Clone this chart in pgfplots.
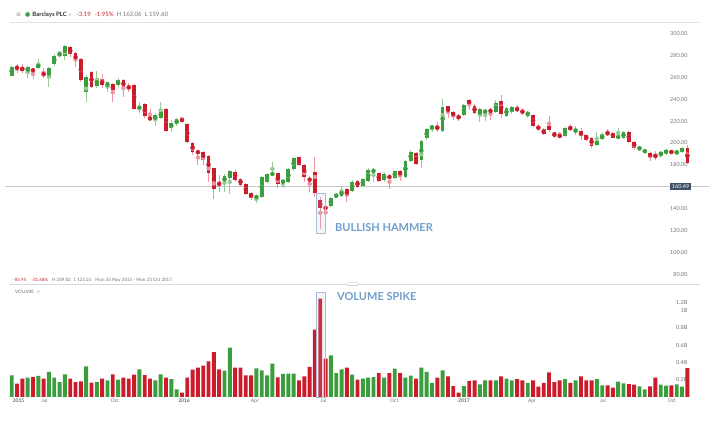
\documentclass[border=0pt]{standalone}
\usepackage{fontspec}
\setmainfont{Lato}
\newfontfamily\sym{DejaVu Sans}
\usepackage{pgfplots}
\usepackage{pgfplotstable}
\pgfplotsset{compat=1.18}

\definecolor{upC}{RGB}{58,158,62}
\definecolor{dnC}{RGB}{204,28,44}
\definecolor{upW}{RGB}{150,205,150}
\definecolor{dnW}{RGB}{236,150,162}
\definecolor{tickgray}{RGB}{115,115,115}
\definecolor{annot}{RGB}{112,158,204}
\definecolor{boxc}{RGB}{168,190,216}
\definecolor{slate}{RGB}{62,80,104}

% weekly candles, up weeks: index open high low close volume(B)
\pgfplotstableread{
i o h l c v
0 261.5 270.6 260.9 269.7 0.250
3 265.1 270.3 259.0 269.4 0.224
5 268.8 276.4 267.2 271.8 0.243
7 259.0 269.7 251.4 268.2 0.289
8 271.8 281.0 270.6 279.7 0.224
9 280.3 284.3 279.7 281.5 0.173
10 279.7 289.8 275.8 288.6 0.262
14 246.2 262.0 237.7 260.5 0.355
16 252.0 265.7 249.9 259.0 0.173
18 251.4 256.0 246.9 255.4 0.193
20 252.9 259.0 251.4 257.5 0.200
24 231.6 237.7 227.1 232.8 0.320
27 221.0 227.1 215.8 225.5 0.193
28 223.1 237.7 221.9 229.2 0.262
30 214.0 220.9 210.3 217.9 0.208
31 217.0 223.1 215.8 221.9 0.089
40 163.8 171.7 155.5 169.9 0.304
41 168.3 175.3 153.4 174.4 0.570
46 149.8 152.5 144.9 151.6 0.331
47 150.4 169.9 149.5 168.6 0.308
48 164.7 172.9 163.2 171.7 0.250
49 171.1 182.4 170.2 172.3 0.385
51 163.2 166.8 158.6 166.2 0.266
52 164.7 176.9 163.2 176.0 0.270
53 176.0 187.5 174.7 186.6 0.270
60 142.5 151.0 141.2 150.1 0.482
61 151.3 153.4 150.4 152.5 0.277
62 151.9 160.7 151.0 156.2 0.320
64 156.2 166.0 155.5 164.7 0.258
66 161.0 167.7 160.1 166.8 0.212
67 165.3 176.9 164.7 175.3 0.223
68 174.1 176.9 164.7 174.7 0.231
70 166.2 173.2 164.7 171.4 0.223
72 168.3 175.3 167.1 174.4 0.327
74 169.3 184.5 168.3 183.6 0.223
75 183.6 193.3 182.4 192.1 0.246
77 184.5 202.7 176.9 201.8 0.339
78 204.3 214.0 202.7 212.8 0.289
79 213.1 216.4 210.3 215.5 0.162
81 211.3 240.2 210.3 233.2 0.308
85 225.6 235.6 224.7 234.7 0.127
88 225.0 231.7 219.5 230.8 0.146
89 228.0 231.0 220.1 229.5 0.193
91 228.6 239.3 227.1 236.2 0.193
93 225.0 233.2 224.1 231.7 0.212
94 228.6 234.1 226.2 232.6 0.193
97 226.2 229.2 222.5 227.4 0.162
104 206.7 214.3 205.2 213.4 0.208
106 210.7 215.8 207.3 211.9 0.193
110 198.2 210.3 197.6 201.8 0.208
111 203.6 210.3 202.7 207.9 0.135
114 204.9 214.0 204.3 206.1 0.177
115 204.3 211.3 203.3 210.3 0.158
118 194.5 196.7 193.6 195.7 0.123
119 192.1 194.2 190.6 193.0 0.089
122 188.4 193.0 186.0 192.1 0.142
123 190.6 194.5 189.0 193.6 0.131
125 190.9 193.6 189.0 192.1 0.146
126 191.5 196.7 190.6 195.7 0.119
}\up

% down weeks
\pgfplotstableread{
i o h l c v
1 269.4 271.8 263.6 268.2 0.154
2 269.7 272.1 263.6 265.7 0.212
4 267.2 268.2 258.1 265.7 0.231
6 263.3 268.8 259.6 262.4 0.212
11 287.3 288.9 278.8 281.2 0.212
12 281.9 282.8 269.7 274.9 0.173
13 276.4 277.3 256.0 257.5 0.181
15 265.1 265.7 249.9 250.8 0.166
17 258.1 262.7 249.9 252.9 0.212
19 253.9 255.1 237.7 248.4 0.262
21 257.5 258.4 241.7 250.8 0.224
22 251.4 254.5 246.2 250.5 0.212
23 252.9 253.5 230.4 231.0 0.258
25 235.3 236.2 223.1 224.6 0.254
26 223.1 231.0 221.0 221.6 0.212
29 231.0 231.6 209.7 210.9 0.224
32 221.6 224.1 219.5 220.1 0.050
33 217.1 218.0 199.7 200.6 0.224
34 200.3 201.2 189.0 191.5 0.316
35 192.1 193.6 179.9 191.2 0.339
36 192.1 192.7 179.9 184.5 0.362
37 188.1 189.0 164.7 172.3 0.412
38 176.9 177.5 148.6 157.7 0.520
39 163.2 170.8 155.5 162.0 0.320
42 173.8 175.3 164.7 166.2 0.339
43 167.4 168.3 160.7 161.6 0.339
44 162.3 163.2 152.5 153.1 0.250
45 154.0 155.6 148.0 150.1 0.250
50 172.3 172.9 158.6 162.6 0.227
54 186.9 187.5 179.0 179.9 0.193
55 179.9 180.5 164.7 169.3 0.239
56 167.7 169.9 155.5 165.3 0.347
57 173.2 186.9 151.0 154.0 0.778
58 148.0 151.0 121.3 140.3 1.137
59 141.2 141.9 131.2 140.3 0.443
63 157.7 158.6 146.4 151.6 0.339
65 165.3 166.2 159.2 160.1 0.200
69 172.3 172.9 164.7 165.3 0.277
71 170.2 171.4 157.7 167.7 0.277
73 174.4 175.3 165.3 170.2 0.277
76 190.6 192.1 179.9 180.8 0.212
80 214.9 219.5 210.3 212.8 0.223
82 233.5 234.1 222.5 227.4 0.239
83 228.0 229.2 221.0 224.7 0.127
84 225.6 226.2 220.4 221.6 0.050
86 239.3 239.9 230.1 235.3 0.185
87 234.1 235.3 226.2 227.1 0.193
90 229.8 232.3 221.0 228.9 0.193
92 238.4 243.8 222.5 226.2 0.239
95 231.7 234.7 228.6 229.8 0.208
96 230.1 231.7 225.6 227.1 0.193
98 225.6 226.2 214.6 215.5 0.193
99 215.5 217.0 211.0 212.5 0.119
100 212.5 214.0 207.3 207.9 0.162
101 215.8 225.0 210.3 211.9 0.285
102 209.7 210.3 204.9 205.8 0.173
103 207.3 210.3 204.9 205.5 0.193
105 214.9 217.0 211.0 212.2 0.162
107 211.0 214.0 202.7 206.7 0.239
108 207.3 207.9 201.8 202.7 0.193
109 204.9 205.8 195.1 197.6 0.193
112 210.3 212.8 206.4 207.3 0.135
113 209.4 210.3 204.3 204.9 0.108
116 210.3 211.0 199.7 200.6 0.150
117 201.2 201.8 193.6 195.7 0.142
120 190.6 192.1 183.6 187.5 0.123
121 189.7 192.7 184.5 186.6 0.223
124 193.0 193.6 189.7 190.6 0.135
127 195.1 198.2 180.5 181.4 0.335
}\dn

\pgfplotsset{
  panel/.style={
    scale only axis, width=709pt,
    xmin=-2.2, xmax=131.07,
    axis line style={draw=none},
    major tick length=0pt,
    yticklabel pos=right,
    yticklabel style={anchor=east, xshift=-18pt,
      font=\fontsize{5.5}{6}\selectfont, text=tickgray},
    /pgf/number format/assume math mode=true,
  },
  wick/.style={only marks, mark=none, #1,
    error bars/.cd, y dir=both, y explicit, error mark=none,
    error bar style={line width=0.9pt, #1}},
  body/.style={only marks, mark=none, #1,
    error bars/.cd, y dir=both, y explicit, error mark=none,
    error bar style={line width=3.7pt, #1}},
}

\begin{document}
\begin{tikzpicture}
\useasboundingbox (0,0) rectangle (709pt,422pt);

% price panel
\begin{axis}[panel,
  at={(0pt,139pt)}, anchor=south west, height=258pt,
  ymin=72.1, ymax=307.8,
  xtick=\empty,
  ytick={80,100,120,140,180,200,220,240,260,280,300},
  yticklabel={\pgfmathprintnumber[fixed,fixed zerofill,precision=2]{\tick}},
]
\addplot[gray!45, line width=0.6pt] coordinates {(-1.2,160.49) (131,160.49)};
\addplot[wick=upW] table[x=i, y expr={(\thisrow{h}+\thisrow{l})/2},
  y error expr={(\thisrow{h}-\thisrow{l})/2}] {\up};
\addplot[wick=dnW] table[x=i, y expr={(\thisrow{h}+\thisrow{l})/2},
  y error expr={(\thisrow{h}-\thisrow{l})/2}] {\dn};
\addplot[body=upC] table[x=i, y expr={(\thisrow{o}+\thisrow{c})/2},
  y error expr={max(abs(\thisrow{c}-\thisrow{o})/2,0.45)}] {\up};
\addplot[body=dnC] table[x=i, y expr={(\thisrow{o}+\thisrow{c})/2},
  y error expr={max(abs(\thisrow{c}-\thisrow{o})/2,0.45)}] {\dn};
\node[fill=slate, text=white, font=\fontsize{5.5}{6}\selectfont,
  inner sep=1.6pt, anchor=east] at (axis cs:131.07,160.49) [xshift=-18pt] {160.49};
\end{axis}

% volume panel
\begin{axis}[panel,
  at={(0pt,25pt)}, anchor=south west, height=111pt,
  ymin=0, ymax=1.283,
  ytick={0.2,0.4,0.6,0.8,1.0},
  yticklabels={0.2B,0.4B,0.6B,0.8B,1B},
  extra y ticks={1.095}, extra y tick labels={1.2B},
  xtick={1.28,6.17,19.4,32.4,45.7,58.6,71.9,85.0,97.8,111.1,124.1},
  xticklabels={{\color{black!80}2015},Jul,Oct,{\color{black!80}2016},Apr,Jul,Oct,
    {\color{black!80}2017},Apr,Jul,Oct},
  xticklabel style={font=\fontsize{5}{6}\selectfont, text=tickgray, inner sep=1.5pt},
]
\addplot[ybar, bar width=3.9pt, bar shift=0pt, fill=upC, draw=none] table[x=i, y=v] {\up};
\addplot[ybar, bar width=3.9pt, bar shift=0pt, fill=dnC, draw=none] table[x=i, y=v] {\dn};
\end{axis}

% header and panel dividers
\draw[gray!22, line width=0.9pt] (10pt,400pt) -- (700pt,400pt);
\node[anchor=west, inner sep=0pt, font=\fontsize{6}{7}\selectfont] at (16pt,407pt)
  {{\sym\color{gray}≡}\hspace{4pt}{\sym\color{upC}●}\hspace{2pt}\textbf{\color{black!80}Barclays PLC}\hspace{2pt}{\sym\color{gray}\fontsize{4}{5}\selectfont∨}\hspace{5pt}{\color{dnC}-3.19}\hspace{4pt}{\color{dnC}-1.95\%}\hspace{3pt}{\color{tickgray}H 163.06\hspace{3pt}L 159.60}};
\draw[gray!30, line width=0.6pt] (10pt,138pt) -- (700pt,138pt);
\draw[gray!50, fill=white, rounded corners=1pt, line width=0.4pt] (347pt,136.3pt) rectangle (358pt,139.7pt);
\node[anchor=west, inner sep=0pt, font=\fontsize{4.5}{5}\selectfont] at (13pt,141.5pt)
  {{\color{dnC}-85.95}\hspace{5pt}{\color{dnC}-31.68\%}\hspace{4pt}{\color{tickgray}H 289.82\hspace{3pt}L 121.25\hspace{4pt}Mon 25 May 2015 - Mon 23 Oct 2017}};
\node[anchor=west, inner sep=0pt, font=\fontsize{4.5}{5}\selectfont, text=tickgray] at (15pt,130pt)
  {VOLUME\hspace{3pt}×};

% annotations
\draw[boxc, fill=boxc, fill opacity=0.15, line width=0.6pt] (316pt,189pt) rectangle (325pt,229pt);
\draw[boxc, fill=boxc, fill opacity=0.15, line width=0.6pt] (316pt,25pt) rectangle (325pt,130pt);
\node[anchor=west, inner sep=0pt, text=annot, font=\fontsize{11}{13}\selectfont\bfseries] at (335pt,194pt) {BULLISH HAMMER};
\node[anchor=west, inner sep=0pt, text=annot, font=\fontsize{11}{13}\selectfont\bfseries] at (337pt,125pt) {VOLUME SPIKE};
\end{tikzpicture}
\end{document}
